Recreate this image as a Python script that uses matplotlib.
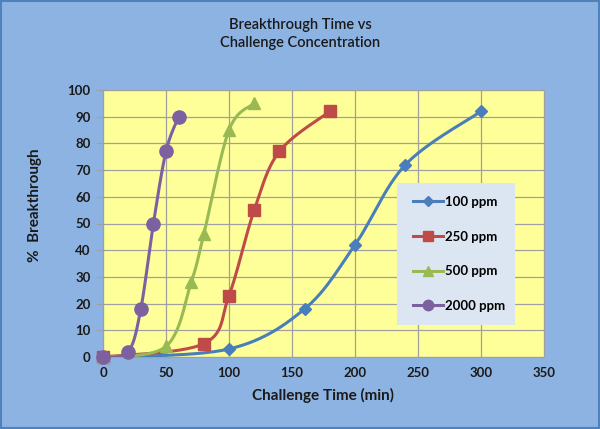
import numpy as np
import matplotlib
matplotlib.use("Agg")
import matplotlib.pyplot as plt
from matplotlib.patches import Rectangle

# ---- data ----
series_names = ["100 ppm", "250 ppm", "500 ppm", "2000 ppm"]
x_100 = [0, 100, 160, 200, 240, 300]
y_100 = [0, 3, 18, 42, 72, 92]
x_250 = [0, 80, 100, 120, 140, 180]
y_250 = [0, 5, 23, 55, 77, 92]
x_500 = [0, 50, 70, 80, 100, 120]
y_500 = [0, 4, 28, 46, 85, 95]
x_2000 = [0, 20, 30, 40, 50, 60]
y_2000 = [0, 2, 18, 50, 77, 90]
x_ticks = [0, 50, 100, 150, 200, 250, 300, 350]
y_ticks = [0, 10, 20, 30, 40, 50, 60, 70, 80, 90, 100]

colors = ["#4A7EBB", "#BE4B48", "#98B954", "#7D60A0"]
markers = ["D", "s", "^", "o"]
msizes = [6, 9, 9, 9.5]
leg_msizes = [5, 7.5, 7.5, 7.5]

def smooth(xs, ys, n=30):
    xs = np.asarray(xs, float); ys = np.asarray(ys, float)
    P = np.column_stack([xs, ys])
    out = []
    for i in range(len(P) - 1):
        p0 = P[i - 1] if i > 0 else P[i]
        p1 = P[i]; p2 = P[i + 1]
        p3 = P[i + 2] if i + 2 < len(P) else P[i + 1]
        c1 = p1 + (p2 - p0) / 6.0
        c2 = p2 - (p3 - p1) / 6.0
        t = np.linspace(0, 1, n)[:, None]
        seg = (1 - t) ** 3 * p1 + 3 * (1 - t) ** 2 * t * c1 + 3 * (1 - t) * t ** 2 * c2 + t ** 3 * p2
        out.append(seg if i == 0 else seg[1:])
    S = np.vstack(out)
    return S[:, 0], S[:, 1]

plt.rcParams['font.family'] = ['Lato', 'DejaVu Sans']
W, H = 600, 429
fig = plt.figure(figsize=(6, 4.29), dpi=100, facecolor="#8DB3E2")
fig.patches.append(Rectangle((0.002, 0.002), 0.996, 0.996, transform=fig.transFigure,
                             fill=False, edgecolor="#4F81BD", linewidth=1.5))
ax = fig.add_axes([103 / W, 1 - 357 / H, 441 / W, 267 / H])
ax.set_facecolor("#FFFF99")

data = [(x_100, y_100), (x_250, y_250), (x_500, y_500), (x_2000, y_2000)]
handles = []
for (xs, ys), c, m, ms, lms, name in zip(data, colors, markers, msizes, leg_msizes, series_names):
    sx, sy = smooth(xs, ys)
    ax.plot(sx, sy, color=c, linewidth=2.2, zorder=3)
    ax.plot(xs, ys, linestyle="none", marker=m, color=c, markersize=ms, zorder=4, clip_on=False)
    h, = ax.plot([], [], color=c, linewidth=2.2, marker=m, markersize=lms, label=name)
    handles.append(h)

ax.set_xlim(0, 350)
ax.set_ylim(0, 100)
ax.set_xticks(x_ticks)
ax.set_yticks(y_ticks)
ax.grid(True, color="#A0A0A0", linewidth=0.9)
ax.set_axisbelow(True)
for s in ax.spines.values():
    s.set_color("#A0A0A0")
ax.tick_params(axis="x", length=0, pad=7, labelsize=9.5)
ax.tick_params(axis="y", length=5, width=0.9, color="#A0A0A0", pad=4, labelsize=9.5)
for lab in ax.get_xticklabels() + ax.get_yticklabels():
    lab.set_fontweight("bold")
    lab.set_color("#1a1a1a")

ax.set_xlabel("Challenge Time (min)", fontsize=11, fontweight="bold", color="#1a1a1a")
ax.xaxis.set_label_coords(0.5, -(395 - 357) / 267)
ax.set_ylabel("%  Breakthrough", fontsize=11, fontweight="bold", color="#1a1a1a")
ax.yaxis.set_label_coords(-(103 - 35) / 441, (357 - 205) / 267)
ax.yaxis.label.set_verticalalignment("center")
ax.xaxis.label.set_verticalalignment("center")

fig.text(0.5, 1 - 34 / H, "Breakthrough Time vs\nChallenge Concentration", ha="center", va="center",
         fontsize=10.5, fontweight="semibold", color="#1a1a1a", linespacing=1.45)

# legend box
lx0, lx1, ly0, ly1 = 397, 515, 183, 325
ax.add_patch(Rectangle(((lx0 - 103) / 441, (357 - ly1) / 267), (lx1 - lx0) / 441, (ly1 - ly0) / 267,
                       transform=ax.transAxes, facecolor="#DCE6F2", edgecolor="none", zorder=9))
leg = ax.legend(handles=handles, loc="center left", bbox_to_anchor=((413 - 103) / 441, (357 - 254) / 267),
                frameon=False, labelspacing=1.72, handlelength=2.3, borderpad=0, borderaxespad=0,
                prop={"weight": "bold", "size": 9.5}, handletextpad=0.15)
leg.set_zorder(10)

fig.savefig("out.png", dpi=100, facecolor=fig.get_facecolor())
